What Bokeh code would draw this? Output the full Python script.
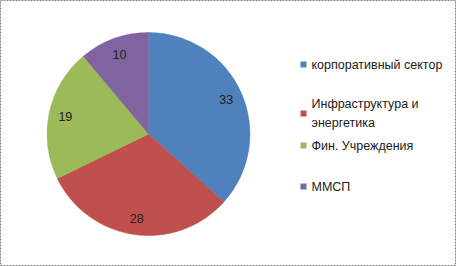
import math
from bokeh.plotting import figure
from bokeh.models import Range1d, ColumnDataSource
from bokeh.core.properties import value
from bokeh.embed import file_html
from bokeh.resources import INLINE

categories = ["корпоративный сектор", "Инфраструктура и\nэнергетика", "Фин. Учреждения", "ММСП"]
values = [33, 28, 19, 10]
colors = ["#4F81BD", "#C0504D", "#9BBB59", "#8064A2"]

W, H = 456, 266
p = figure(width=W, height=H, output_backend="svg", toolbar_location=None,
           x_range=Range1d(0, W), y_range=Range1d(0, H), min_border=0)
p.axis.visible = False
p.grid.visible = False
p.background_fill_color = "white"
p.border_fill_color = "white"
p.outline_line_color = "#808080"
p.outline_line_dash = "2 1"
p.outline_line_width = 1

cx, cy, R = 148, H - 133.5, 101.5
total = sum(values)
starts, ends, mids = [], [], []
acc = 0
for v in values:
    a0 = math.radians(90 - acc / total * 360)
    acc += v
    a1 = math.radians(90 - acc / total * 360)
    starts.append(a0)
    ends.append(a1)
    mids.append((a0 + a1) / 2)

src = ColumnDataSource(dict(start=starts, end=ends, color=colors))
p.wedge(x=cx, y=cy, radius=R, start_angle="start", end_angle="end", direction="clock",
        fill_color="color", line_color="color", line_width=0.5, source=src)

lr = 85
lx = [cx + lr * math.cos(m) for m in mids]
ly = [cy + lr * math.sin(m) for m in mids]
p.text(x=lx, y=ly, text=[str(v) for v in values], text_align="center", text_baseline="middle",
       text_font=value("Liberation Sans"), text_font_size="12.5px", text_color="#202020")

# legend
leg_y = [H - 64, H - 113, H - 145, H - 186]
p.rect(x=[303] * 4, y=leg_y, width=6, height=6, fill_color=colors, line_color=None)
p.text(x=[311] * 4, y=leg_y, text=categories, text_align="left", text_baseline="middle",
       text_font=value("Liberation Sans"), text_font_size="12.5px", text_color="#202020",
       text_line_height=1.3)

open("out.html", "w").write(file_html(p, INLINE))
